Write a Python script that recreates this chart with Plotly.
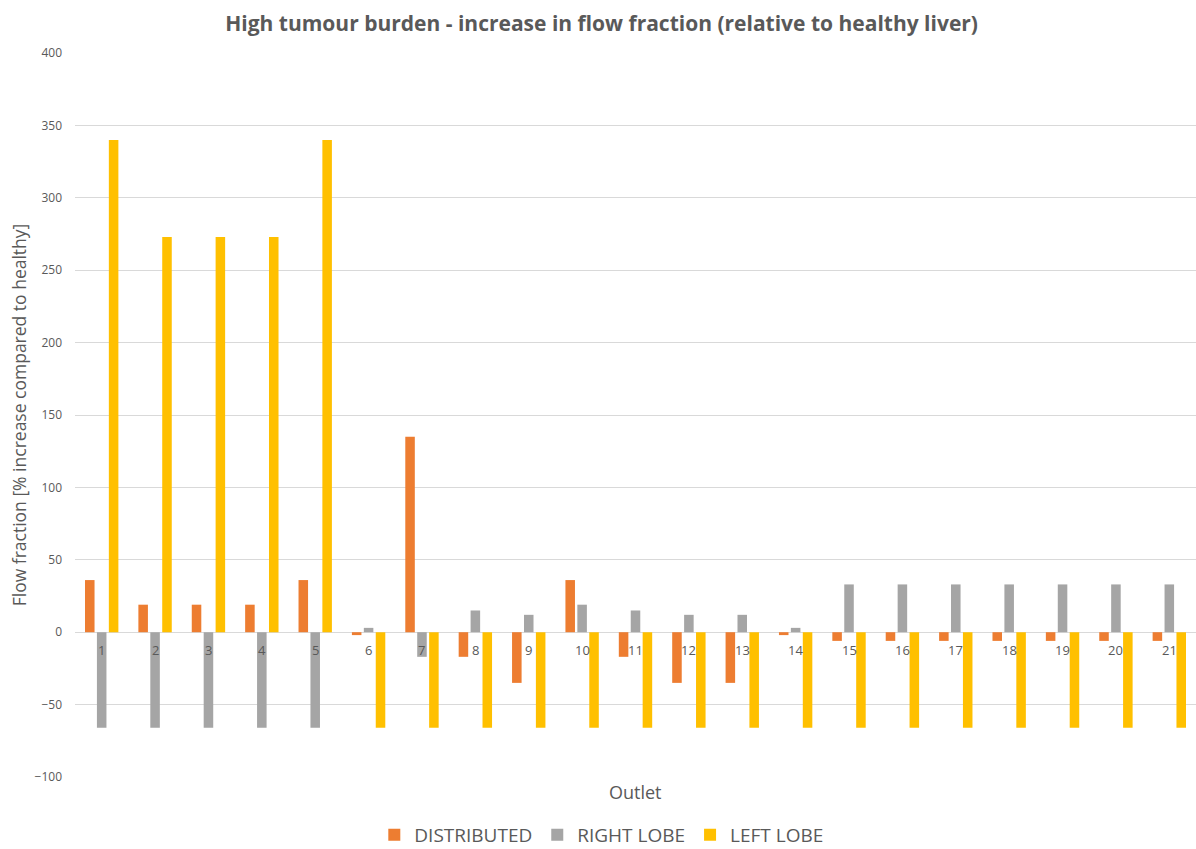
import plotly.graph_objects as go

# Outlet numbers along the category axis
outlets = [str(i) for i in range(1, 22)]

# Flow fraction change (% relative to healthy liver) per tumour distribution
distributed = [36, 19, 19, 19, 36, -2, 135, -17, -35, 36, -17, -35, -35, -2,
               -6, -6, -6, -6, -6, -6, -6]
right_lobe = [-66, -66, -66, -66, -66, 3, -17, 15, 12, 19, 15, 12, 12, 3,
              33, 33, 33, 33, 33, 33, 33]
left_lobe = [340, 273, 273, 273, 340, -66, -66, -66, -66, -66, -66, -66, -66, -66,
             -66, -66, -66, -66, -66, -66, -66]

y_ticks = [400, 350, 300, 250, 200, 150, 100, 50, 0, -50, -100]

FONT = "Open Sans"
TEXT = "#595959"
GRID = "#d9d9d9"

fig = go.Figure()
fig.add_trace(go.Bar(name="DISTRIBUTED", x=outlets, y=distributed,
                     marker=dict(color="#ED7D31", line=dict(width=0))))
fig.add_trace(go.Bar(name="RIGHT LOBE", x=outlets, y=right_lobe,
                     marker=dict(color="#A5A5A5", line=dict(width=0))))
fig.add_trace(go.Bar(name="LEFT LOBE", x=outlets, y=left_lobe,
                     marker=dict(color="#FFC000", line=dict(width=0))))

# Category labels sit just under the zero line (x given as category index)
for i, o in enumerate(outlets):
    fig.add_annotation(x=i, y=0, xref="x", yref="y", text=o, showarrow=False,
                       yanchor="top", yshift=-7,
                       font=dict(family=FONT, size=13, color=TEXT))

# Axis title for the outlets, below the plot area
fig.add_annotation(x=0.5, y=-0.021, xref="paper", yref="paper", text="Outlet",
                   showarrow=False, yanchor="middle", xanchor="center",
                   font=dict(family=FONT, size=18, color=TEXT))

fig.update_layout(
    width=1196, height=849,
    margin=dict(l=75, r=0, t=53, b=72, autoexpand=False),
    paper_bgcolor="white", plot_bgcolor="white",
    barmode="group", bargap=0.33, bargroupgap=0.2,
    title=dict(text="<b>High tumour burden - increase in flow fraction (relative to healthy liver)</b>",
               x=0.503, xref="container", xanchor="center",
               y=1 - 24 / 849, yref="container", yanchor="middle",
               font=dict(family=FONT, size=21, color=TEXT)),
    legend=dict(orientation="h", x=0.4695, xanchor="center", y=-0.08, yanchor="middle",
                font=dict(family=FONT, size=19, color=TEXT), traceorder="normal",
                itemwidth=30),
    showlegend=True,
)

fig.update_xaxes(type="category", showticklabels=False, showgrid=False,
                 showline=False, ticks="", zeroline=False)
fig.update_yaxes(range=[-100, 400], tickvals=y_ticks, showgrid=True, gridcolor=GRID,
                 gridwidth=1, zeroline=True, zerolinecolor=GRID, zerolinewidth=1,
                 showline=False, ticks="", ticklabelstandoff=12,
                 tickfont=dict(family=FONT, size=12, color=TEXT),
                 title=dict(text="Flow fraction [% increase compared to healthy]",
                            font=dict(family=FONT, size=17.5, color=TEXT), standoff=3))

fig.write_html("out.html")
